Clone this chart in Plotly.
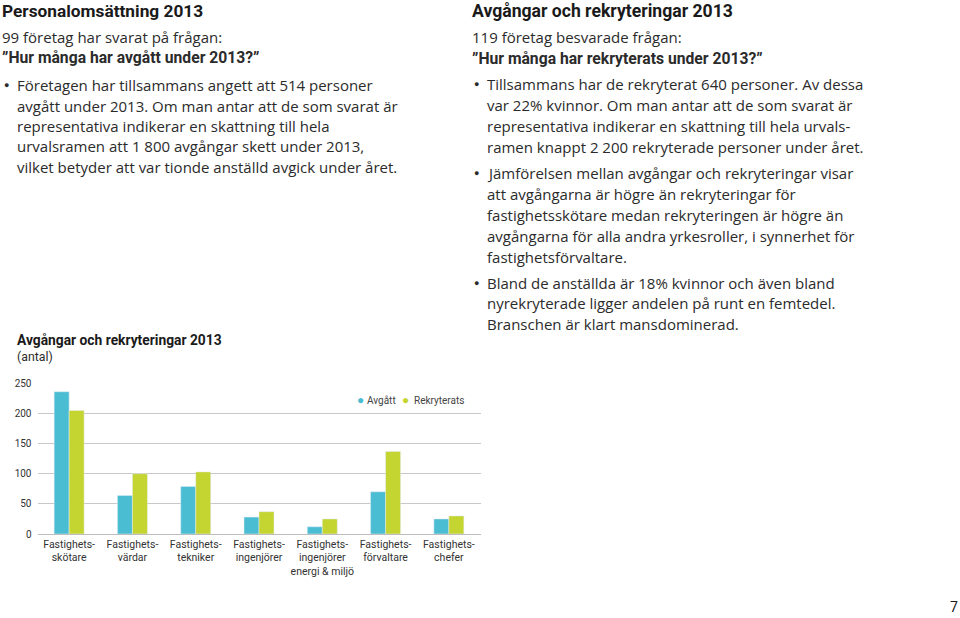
import plotly.graph_objects as go

W, H = 960, 618

categories = [
    "Fastighets-<br>skötare",
    "Fastighets-<br>värdar",
    "Fastighets-<br>tekniker",
    "Fastighets-<br>ingenjörer",
    "Fastighets-<br>ingenjörer<br>energi & miljö",
    "Fastighets-<br>förvaltare",
    "Fastighets-<br>chefer",
]
avgatt = [236, 64, 79, 28, 12, 70, 25]
rekryterats = [205, 100, 103, 37, 25, 137, 30]
y_ticks = [0, 50, 100, 150, 200, 250]

C_AVG = "#4bbdd2"
C_REK = "#c4d430"
FONT = "Roboto"
BODY = "Open Sans"
TXT = "#2b2b2b"

fig = go.Figure()
fig.add_trace(go.Bar(name="Avgått", x=categories, y=avgatt, marker_color=C_AVG,
                     showlegend=False))
fig.add_trace(go.Bar(name="Rekryterats", x=categories, y=rekryterats, marker_color=C_REK,
                     showlegend=False))

def px(x):
    return x / W

def py(y):
    return 1 - y / H

annotations = []

def add_text(x, y, text, size, bold=False, color=TXT, xanchor="left", family=FONT,
             yanchor="middle"):
    t = f"<b>{text}</b>" if bold else text
    annotations.append(dict(x=px(x), y=py(y), xref="paper", yref="paper", text=t,
                            showarrow=False, xanchor=xanchor, yanchor=yanchor,
                            font=dict(family=family, size=size, color=color)))

def bullet(x, y):
    add_text(x, y, "●", 9, color="#2b2b2b")

# Left column
add_text(0, 11, "Personalomsättning 2013", 17.3, bold=True, color="#1a1a1a")
add_text(0, 36.5, "99 företag har svarat på frågan:", 15, family=BODY)
add_text(0, 57.5, "”Hur många har avgått under 2013?”", 15.7, bold=True)
left_bullet = [
    "Företagen har tillsammans angett att 514 personer",
    "avgått under 2013. Om man antar att de som svarat är",
    "representativa indikerar en skattning till hela",
    "urvalsramen att 1 800 avgångar skett under 2013,",
    "vilket betyder att var tionde anställd avgick under året.",
]
left_y = [85, 105.5, 126, 146.5, 167]
bullet(1.5, 85)
for t, y in zip(left_bullet, left_y):
    add_text(14.5, y, t, 15, family=BODY)

# Right column
add_text(470, 11, "Avgångar och rekryteringar 2013", 17.6, bold=True, color="#1a1a1a")
add_text(470, 37, "119 företag besvarade frågan:", 15, family=BODY)
add_text(470, 58, "”Hur många har rekryterats under 2013?”", 15.7, bold=True)
right_blocks = [
    ([84, 105, 126, 146.7], [
        "Tillsammans har de rekryterat 640 personer. Av dessa",
        "var 22% kvinnor. Om man antar att de som svarat är",
        "representativa indikerar en skattning till hela urvals-",
        "ramen knappt 2 200 rekryterade personer under året.",
    ]),
    ([173.3, 194, 215, 236, 256.7], [
        "Jämförelsen mellan avgångar och rekryteringar visar",
        "att avgångarna är högre än rekryteringar för",
        "fastighetsskötare medan rekryteringen är högre än",
        "avgångarna för alla andra yrkesroller, i synnerhet för",
        "fastighetsförvaltare.",
    ]),
    ([282.7, 303.3, 324], [
        "Bland de anställda är 18% kvinnor och även bland",
        "nyrekryterade ligger andelen på runt en femtedel.",
        "Branschen är klart mansdominerad.",
    ]),
]
for ys, lines in right_blocks:
    bullet(471.5, ys[0])
    for t, y in zip(lines, ys):
        add_text(484.5, y, t, 15, family=BODY)

# Chart title
add_text(15, 340, "Avgångar och rekryteringar 2013", 13.8, bold=True, color="#1a1a1a")
add_text(15, 357, "(antal)", 12.3)

# Legend
add_text(354.5, 399.5, f"<span style='color:{C_AVG}'>●</span>", 12)
add_text(365, 400, "Avgått", 10, color="#444")
add_text(400, 399.5, f"<span style='color:{C_REK}'>●</span>", 12)
add_text(411.5, 400, "Rekryterats", 10, color="#444")

# Page number
add_text(954, 617, "7", 14, color="#1a1a1a", xanchor="center", yanchor="bottom")

fig.update_layout(
    width=W, height=H, autosize=False,
    margin=dict(l=0, r=0, t=0, b=0, autoexpand=False),
    paper_bgcolor="white", plot_bgcolor="white",
    barmode="group", bargap=0.526, bargroupgap=0,
    showlegend=False,
    font=dict(family=FONT, color=TXT),
    annotations=annotations,
    xaxis=dict(domain=[37.5 / W, 480.5 / W], showgrid=False, showline=False,
               zeroline=False, ticks="", tickfont=dict(size=10.5, color="#333"),
               ticklabelstandoff=2, tickangle=0, automargin=False),
    yaxis=dict(domain=[(H - 534) / H, (H - 383.3) / H], range=[0, 250],
               tickvals=y_ticks, showgrid=True, gridcolor="#c8c8c8", gridwidth=1,
               zeroline=True, zerolinecolor="#bdbdbd", zerolinewidth=1,
               showline=False, ticks="", tickfont=dict(size=10, color="#333"),
               ticklabelstandoff=5, automargin=False),
)

fig.write_html("out.html", config={"displayModeBar": False},
               post_script="document.body.style.margin='0';document.body.style.padding='0';")
